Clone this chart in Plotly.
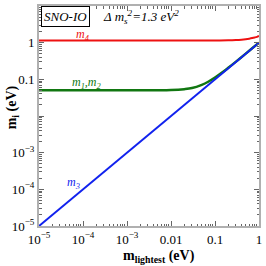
import plotly.graph_objects as go

# Data
m3_x = [1e-5, 1.0]
m3_y = [1e-5, 1.0]

m12_x = [1e-5, 1e-4, 1e-3, 0.005, 0.01, 0.02, 0.03, 0.05, 0.07, 0.1, 0.15, 0.2, 0.3, 0.5, 0.7, 1.0]
m12_y = [0.050, 0.050, 0.050, 0.0502, 0.051, 0.054, 0.058, 0.071, 0.086, 0.112, 0.158, 0.206, 0.304, 0.502, 0.702, 1.0]

m4_x = [1e-5, 1e-3, 0.05, 0.1, 0.2, 0.3, 0.4, 0.5, 0.6, 0.7, 0.8, 0.9, 1.0]
m4_y = [1.14, 1.14, 1.141, 1.145, 1.158, 1.179, 1.207, 1.244, 1.286, 1.334, 1.386, 1.442, 1.52]

x_tickvals = [1e-5, 1e-4, 1e-3, 0.01, 0.1, 1]
x_ticktext = ["10<sup>−5</sup>", "10<sup>−4</sup>", "10<sup>−3</sup>", "0.01", "0.1", "1"]
y_tickvals = [1e-5, 1e-4, 1e-3, 0.01, 0.1, 1, 10]
y_ticktext = ["10<sup>−5</sup>", "10<sup>−4</sup>", "10<sup>−3</sup>", " ", "0.1", "1", "10"]

FONT = "Liberation Serif"

fig = go.Figure()
fig.add_trace(go.Scatter(x=m4_x, y=m4_y, mode="lines", line=dict(color="#ee1111", width=2), line_shape="spline"))
fig.add_trace(go.Scatter(x=m12_x, y=m12_y, mode="lines", line=dict(color="#117711", width=2.5), line_shape="spline"))
fig.add_trace(go.Scatter(x=m3_x, y=m3_y, mode="lines", line=dict(color="#1122ee", width=2)))

def minor_vals(lo, hi):
    vals = []
    for e in range(lo, hi):
        for k in range(2, 10):
            vals.append(k * 10 ** e)
    return vals

axis_common = dict(
    type="log", showgrid=False, zeroline=False,
    showline=True, linecolor="#b0b0b0", linewidth=2, mirror="ticks",
    ticks="inside", ticklen=5, tickcolor="#666666", tickwidth=1,
    tickfont=dict(family=FONT, size=13, color="black"),
)

fig.update_xaxes(**axis_common, range=[-5, 0], tickvals=x_tickvals, ticktext=x_ticktext,
                 minor=dict(ticks="inside", ticklen=2.5, tickcolor="#666666", tickvals=minor_vals(-5, 0)))
fig.update_yaxes(**axis_common, range=[-5, 1], tickvals=y_tickvals, ticktext=y_ticktext,
                 minor=dict(ticks="inside", ticklen=2.5, tickcolor="#666666", tickvals=minor_vals(-5, 1)))

ann = [
    dict(x=0.121, y=0.951, text="<i>SNO-IO</i>", font=dict(family=FONT, size=13, color="black"),
         bordercolor="black", borderwidth=1, borderpad=2, bgcolor="white"),
    dict(x=0.462, y=0.95, text="<i>Δ m<sub>s</sub><sup>2</sup>=1.3 eV<sup>2</sup></i>",
         font=dict(family=FONT, size=13, color="black")),
    dict(x=0.197, y=0.869, text="<i>m<sub>4</sub></i>", font=dict(family=FONT, size=12, color="#ee1111")),
    dict(x=0.215, y=0.649, text="<i>m<sub>1</sub>,m<sub>2</sub></i>", font=dict(family=FONT, size=12, color="#117711")),
    dict(x=0.157, y=0.194, text="<i>m<sub>3</sub></i>", font=dict(family=FONT, size=12, color="#1122ee")),
    dict(x=0.545, y=-0.138, text="<b>m</b><sub><b>lightest</b></sub> <b>(eV)</b>", font=dict(family=FONT, size=14, color="black")),
    dict(x=-0.122, y=0.54, text="<b>m</b><sub><b>i</b></sub> <b>(eV)</b>", font=dict(family=FONT, size=14, color="black"),
         textangle=-90),
]
for a in ann:
    a.setdefault("xref", "paper")
    a.setdefault("yref", "paper")
    a["xanchor"] = "center"
    a["yanchor"] = "middle"
    a["showarrow"] = False
fig.update_layout(annotations=ann)

fig.update_layout(
    width=266, height=266, showlegend=False,
    margin=dict(l=39, r=4, t=4, b=40),
    plot_bgcolor="white", paper_bgcolor="white",
)
fig.write_html("out.html", config={"displayModeBar": False},
               post_script="document.body.style.margin='0';document.body.style.overflow='hidden';")
